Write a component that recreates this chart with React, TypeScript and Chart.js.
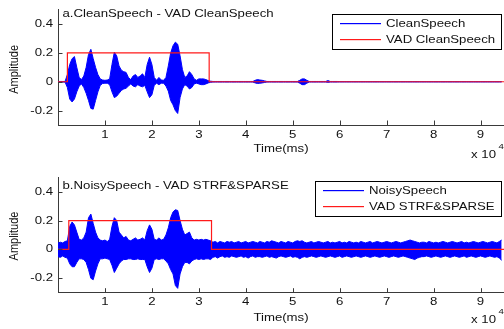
import { useEffect, useRef } from "react";
import { Chart, registerables } from "chart.js";

Chart.register(...registerables);

// time bin width, in units of 10^4 ms
const STEP = 0.05;

const xTicks = [1, 2, 3, 4, 5, 6, 7, 8, 9];
const yTicks = [-0.2, 0, 0.2, 0.4];

// envelope (max / min per bin) of the clean speech waveform
const cleanHi = [
  0.002, 0.002, 0.002, 0.002, 0.05, 0.12, 0.16, 0.175, 0.1, 0.03,
  0.015, 0.04, 0.1, 0.19, 0.225, 0.16, 0.1, 0.05, 0.02, 0.012,
  0.01, 0.012, 0.02, 0.12, 0.205, 0.18, 0.11, 0.08, 0.07, 0.065,
  0.03, 0.015, 0.04, 0.05, 0.03, 0.04, 0.055, 0.03, 0.12, 0.17,
  0.12, 0.03, 0.01, 0.03, 0.012, 0.01, 0.03, 0.11, 0.2, 0.25,
  0.275, 0.26, 0.18, 0.085, 0.03, 0.04, 0.07, 0.05, 0.02, 0.01,
  0.02, 0.02, 0.02, 0.015, 0.008, 0.004, 0.002, 0.002, 0.002, 0.002,
  0.002, 0.002, 0.002, 0.002, 0.002, 0.002, 0.002, 0.002, 0.002, 0.002,
  0.002, 0.002, 0.002, 0.002, 0.01, 0.015, 0.012, 0.01, 0.006, 0.002,
  0.002, 0.002, 0.002, 0.002, 0.002, 0.002, 0.002, 0.002, 0.002, 0.002,
  0.002, 0.002, 0.002, 0.01, 0.02, 0.02, 0.01, 0.002, 0.002, 0.002,
  0.002, 0.002, 0.002, 0.002, 0.002, 0.008, 0.002, 0.002, 0.002, 0.002,
  0.001, 0.001, 0.001, 0.001, 0.001, 0.001, 0.001, 0.001, 0.001, 0.001,
  0.001, 0.001, 0.001, 0.001, 0.001, 0.001, 0.001, 0.001, 0.001, 0.001,
  0.001, 0.001, 0.001, 0.001, 0.001, 0.001, 0.001, 0.001, 0.001, 0.001,
  0.001, 0.001, 0.001, 0.001, 0.001, 0.001, 0.001, 0.001, 0.001, 0.001,
  0.001, 0.001, 0.001, 0.001, 0.001, 0.001, 0.001, 0.001, 0.001, 0.001,
  0.001, 0.001, 0.001, 0.001, 0.001, 0.001, 0.001, 0.001, 0.001, 0.001,
  0.001, 0.001, 0.001, 0.001, 0.001, 0.001, 0.001, 0.001, 0.001, 0.001,
];
const cleanLo = [
  -0.002, -0.002, -0.002, -0.002, -0.04, -0.12, -0.14, -0.12, -0.07, -0.03,
  -0.015, -0.04, -0.08, -0.13, -0.185, -0.19, -0.13, -0.07, -0.025, -0.012,
  -0.01, -0.01, -0.02, -0.07, -0.11, -0.1, -0.08, -0.06, -0.05, -0.045,
  -0.03, -0.015, -0.03, -0.035, -0.02, -0.03, -0.035, -0.025, -0.07, -0.11,
  -0.09, -0.025, -0.01, -0.02, -0.01, -0.01, -0.03, -0.065, -0.13, -0.16,
  -0.2, -0.22, -0.11, -0.05, -0.02, -0.03, -0.05, -0.04, -0.015, -0.01,
  -0.015, -0.02, -0.02, -0.015, -0.008, -0.004, -0.002, -0.002, -0.002, -0.002,
  -0.002, -0.002, -0.002, -0.002, -0.002, -0.002, -0.002, -0.002, -0.002, -0.002,
  -0.002, -0.002, -0.002, -0.002, -0.008, -0.012, -0.01, -0.008, -0.005, -0.002,
  -0.002, -0.002, -0.002, -0.002, -0.002, -0.002, -0.002, -0.002, -0.002, -0.002,
  -0.002, -0.002, -0.002, -0.01, -0.02, -0.02, -0.01, -0.002, -0.002, -0.002,
  -0.002, -0.002, -0.002, -0.002, -0.002, -0.004, -0.002, -0.002, -0.002, -0.002,
  -0.001, -0.001, -0.001, -0.001, -0.001, -0.001, -0.001, -0.001, -0.001, -0.001,
  -0.001, -0.001, -0.001, -0.001, -0.001, -0.001, -0.001, -0.001, -0.001, -0.001,
  -0.001, -0.001, -0.001, -0.001, -0.001, -0.001, -0.001, -0.001, -0.001, -0.001,
  -0.001, -0.001, -0.001, -0.001, -0.001, -0.001, -0.001, -0.001, -0.001, -0.001,
  -0.001, -0.001, -0.001, -0.001, -0.001, -0.001, -0.001, -0.001, -0.001, -0.001,
  -0.001, -0.001, -0.001, -0.001, -0.001, -0.001, -0.001, -0.001, -0.001, -0.001,
  -0.001, -0.001, -0.001, -0.001, -0.001, -0.001, -0.001, -0.001, -0.001, -0.001,
];

// envelope (max / min per bin) of the noisy speech waveform
const noisyHi = [
  0.045, 0.05, 0.045, 0.055, 0.06, 0.16, 0.19, 0.17, 0.12, 0.07,
  0.065, 0.08, 0.12, 0.22, 0.245, 0.18, 0.12, 0.08, 0.065, 0.06,
  0.065, 0.055, 0.07, 0.16, 0.22, 0.2, 0.12, 0.1, 0.08, 0.09,
  0.065, 0.06, 0.07, 0.08, 0.065, 0.07, 0.08, 0.065, 0.13, 0.17,
  0.14, 0.07, 0.065, 0.08, 0.065, 0.07, 0.1, 0.15, 0.22, 0.26,
  0.275, 0.27, 0.2, 0.14, 0.1, 0.11, 0.12, 0.08, 0.065, 0.07,
  0.065, 0.07, 0.065, 0.07, 0.065, 0.06, 0.05, 0.055, 0.045, 0.055,
  0.05, 0.045, 0.055, 0.05, 0.055, 0.045, 0.05, 0.055, 0.045, 0.05,
  0.055, 0.045, 0.05, 0.055, 0.05, 0.045, 0.055, 0.05, 0.045, 0.055,
  0.05, 0.06, 0.055, 0.05, 0.045, 0.055, 0.05, 0.045, 0.055, 0.05,
  0.045, 0.055, 0.06, 0.055, 0.06, 0.05, 0.045, 0.05, 0.055, 0.045,
  0.05, 0.055, 0.05, 0.045, 0.05, 0.055, 0.045, 0.05, 0.045, 0.05,
  0.055, 0.045, 0.05, 0.045, 0.055, 0.05, 0.045, 0.05, 0.045, 0.055,
  0.05, 0.045, 0.05, 0.055, 0.045, 0.05, 0.055, 0.05, 0.045, 0.05,
  0.055, 0.05, 0.045, 0.05, 0.055, 0.05, 0.045, 0.05, 0.055, 0.06,
  0.065, 0.06, 0.055, 0.05, 0.045, 0.05, 0.05, 0.045, 0.055, 0.05,
  0.045, 0.05, 0.045, 0.05, 0.055, 0.05, 0.045, 0.05, 0.055, 0.05,
  0.045, 0.05, 0.055, 0.045, 0.05, 0.045, 0.05, 0.055, 0.05, 0.045,
  0.05, 0.055, 0.05, 0.045, 0.05, 0.055, 0.05, 0.045, 0.055, 0.065,
];
const noisyLo = [
  -0.05, -0.055, -0.045, -0.055, -0.06, -0.1, -0.12, -0.12, -0.09, -0.065,
  -0.065, -0.07, -0.09, -0.14, -0.2, -0.21, -0.15, -0.1, -0.065, -0.065,
  -0.06, -0.065, -0.07, -0.11, -0.16, -0.13, -0.1, -0.08, -0.07, -0.07,
  -0.065, -0.065, -0.07, -0.07, -0.065, -0.07, -0.07, -0.07, -0.12, -0.16,
  -0.13, -0.07, -0.065, -0.07, -0.065, -0.065, -0.08, -0.1, -0.14, -0.17,
  -0.25, -0.27, -0.17, -0.12, -0.09, -0.09, -0.1, -0.08, -0.07, -0.065,
  -0.07, -0.065, -0.07, -0.065, -0.065, -0.07, -0.055, -0.05, -0.06, -0.05,
  -0.045, -0.055, -0.05, -0.055, -0.045, -0.05, -0.055, -0.05, -0.045, -0.055,
  -0.05, -0.06, -0.05, -0.045, -0.055, -0.05, -0.05, -0.055, -0.05, -0.045,
  -0.055, -0.05, -0.055, -0.06, -0.05, -0.045, -0.05, -0.055, -0.05, -0.045,
  -0.055, -0.05, -0.055, -0.065, -0.055, -0.05, -0.055, -0.05, -0.045, -0.05,
  -0.055, -0.05, -0.045, -0.05, -0.055, -0.05, -0.045, -0.05, -0.055, -0.05,
  -0.045, -0.055, -0.05, -0.045, -0.05, -0.055, -0.05, -0.045, -0.05, -0.055,
  -0.05, -0.045, -0.05, -0.055, -0.05, -0.045, -0.05, -0.055, -0.05, -0.045,
  -0.05, -0.055, -0.05, -0.045, -0.05, -0.055, -0.05, -0.045, -0.05, -0.055,
  -0.06, -0.065, -0.07, -0.06, -0.055, -0.05, -0.05, -0.045, -0.05, -0.055,
  -0.05, -0.045, -0.05, -0.055, -0.05, -0.045, -0.05, -0.055, -0.05, -0.045,
  -0.05, -0.055, -0.05, -0.045, -0.055, -0.05, -0.045, -0.05, -0.055, -0.05,
  -0.045, -0.05, -0.055, -0.05, -0.045, -0.05, -0.055, -0.05, -0.06, -0.075,
];

// VAD decisions: step points (time, value)
const vadCleanX = [0, 0.2, 3.22, 9.5];
const vadCleanY = [0, 0.2, 0, 0];
const vadNoisyX = [0, 0.23, 3.27, 9.5];
const vadNoisyY = [0, 0.2, 0, 0];

const BLUE = "#0000ff";
const RED = "#ff1a1a";
const AXIS = "#3a3a3a";
const TEXT = "#111111";
const FONT = "Liberation Sans";
const SX = 1.2; // horizontal stretch of the original figure's text

function buildEnvelope(vals: number[]) {
  return vals.map((y, i) => ({ x: i * STEP, y }));
}

function drawText(
  ctx: CanvasRenderingContext2D,
  text: string,
  x: number,
  y: number,
  size: number,
  align: CanvasTextAlign
) {
  ctx.save();
  ctx.translate(x, y);
  ctx.scale(SX, 1);
  ctx.font = `${size}px "${FONT}"`;
  ctx.textAlign = align;
  ctx.textBaseline = "middle";
  ctx.fillStyle = TEXT;
  ctx.fillText(text, 0, 0);
  ctx.restore();
}

type PanelCfg = {
  title: string;
  waveLabel: string;
  vadLabel: string;
  hi: number[];
  lo: number[];
  vadX: number[];
  vadY: number[];
  top: number;
  height: number;
  padTop: number;
  xAxisH: number;
  tickDy: number;
  xTitleDy: number;
  yTitleDy: number;
  titleDy: number;
  legendDy: number;
  expDy: number;
};

function makeDecor(cfg: PanelCfg) {
  return {
    id: "decor",
    afterDraw(chart: any) {
      const { ctx, chartArea, scales } = chart;
      const { left, right, top, bottom } = chartArea;
      ctx.save();
      // inward tick marks
      ctx.strokeStyle = AXIS;
      ctx.lineWidth = 1;
      ctx.beginPath();
      for (const v of xTicks) {
        const px = Math.round(scales.x.getPixelForValue(v)) + 0.5;
        ctx.moveTo(px, bottom);
        ctx.lineTo(px, bottom - 4.5);
      }
      for (const v of yTicks) {
        const py = Math.round(scales.y.getPixelForValue(v)) + 0.5;
        ctx.moveTo(left, py);
        ctx.lineTo(left + 4.5, py);
      }
      ctx.stroke();

      // tick labels
      for (const v of xTicks) {
        drawText(ctx, String(v), scales.x.getPixelForValue(v), bottom + cfg.tickDy, 11, "center");
      }
      for (const v of yTicks) {
        drawText(ctx, String(v), left - 5, scales.y.getPixelForValue(v), 11, "right");
      }

      // axis titles
      drawText(ctx, "Time(ms)", (left + right) / 2, bottom + cfg.xTitleDy, 11, "center");
      ctx.save();
      ctx.translate(14, (top + bottom) / 2 + cfg.yTitleDy);
      ctx.rotate(-Math.PI / 2);
      ctx.scale(1, SX);
      ctx.font = `11px "${FONT}"`;
      ctx.textAlign = "center";
      ctx.textBaseline = "middle";
      ctx.fillStyle = TEXT;
      ctx.fillText("Amplitude", 0, 0);
      ctx.restore();

      // panel title inside axes
      drawText(ctx, cfg.title, left + 4.5, top + cfg.titleDy, 11, "left");

      // legend box
      ctx.font = `11px "${FONT}"`;
      const labels = [cfg.waveLabel, cfg.vadLabel];
      const colors = [BLUE, RED];
      const maxW = Math.max(...labels.map((l) => ctx.measureText(l).width)) * SX;
      const boxW = Math.round(54 + maxW + 6);
      const boxH = 35;
      const bx = Math.round(right - 3 - boxW);
      const by = Math.round(top + cfg.legendDy);
      ctx.fillStyle = "#ffffff";
      ctx.fillRect(bx, by, boxW, boxH);
      ctx.fillStyle = "#000000";
      ctx.fillRect(bx, by, boxW + 1, 1);
      ctx.fillRect(bx, by + boxH, boxW + 1, 1);
      ctx.fillRect(bx, by, 1, boxH + 1);
      ctx.fillRect(bx + boxW, by, 1, boxH + 1);
      for (let i = 0; i < labels.length; i++) {
        const ry = by + 9 + i * 16;
        ctx.fillStyle = colors[i];
        ctx.fillRect(bx + 8, ry, 41, 1.2);
        drawText(ctx, labels[i], bx + 54, ry + 1, 11, "left");
      }

      // x 10^4 multiplier
      drawText(ctx, "x 10", right - 8, bottom + cfg.expDy, 11, "right");
      drawText(ctx, "4", right - 5.5, bottom + cfg.expDy - 8, 8, "left");
      ctx.restore();
    },
  };
}

function Panel({ cfg }: { cfg: PanelCfg }) {
  const ref = useRef<HTMLCanvasElement>(null);
  useEffect(() => {
    const chart = new Chart(ref.current as HTMLCanvasElement, {
      type: "line",
      data: {
        datasets: [
          {
            label: cfg.waveLabel,
            data: buildEnvelope(cfg.hi),
            borderColor: BLUE,
            backgroundColor: BLUE,
            borderWidth: 1,
            pointRadius: 0,
            tension: 0,
            fill: "+1",
            order: 1,
          },
          {
            label: cfg.waveLabel + " (min)",
            data: buildEnvelope(cfg.lo),
            borderColor: BLUE,
            backgroundColor: BLUE,
            borderWidth: 1,
            pointRadius: 0,
            tension: 0,
            fill: false,
            order: 1,
          },
          {
            label: cfg.vadLabel,
            data: cfg.vadX.map((x, i) => ({ x, y: cfg.vadY[i] })),
            borderColor: RED,
            backgroundColor: RED,
            borderWidth: 1.2,
            pointRadius: 0,
            stepped: true,
            fill: false,
            order: 0,
          },
        ],
      } as any,
      options: {
        animation: false,
        responsive: false,
        events: [],
        layout: { padding: { top: cfg.padTop, left: 0, right: 0, bottom: 0 } },
        plugins: {
          legend: { display: false },
          tooltip: { enabled: false },
        },
        scales: {
          x: {
            type: "linear",
            min: 0,
            max: 9.5,
            afterBuildTicks: (s: any) => {
              s.ticks = xTicks.map((v) => ({ value: v }));
            },
            afterFit: (s: any) => {
              s.height = cfg.xAxisH;
            },
            grid: { display: false, drawTicks: false },
            border: { display: true, color: AXIS, width: 1 },
            ticks: { display: false },
          },
          y: {
            type: "linear",
            min: -0.3,
            max: 0.5,
            afterBuildTicks: (s: any) => {
              s.ticks = yTicks.map((v) => ({ value: v }));
            },
            afterFit: (s: any) => {
              s.width = 58;
            },
            grid: { display: false, drawTicks: false },
            border: { display: true, color: AXIS, width: 1 },
            ticks: { display: false },
          },
        },
      } as any,
      plugins: [makeDecor(cfg)],
    });
    return () => chart.destroy();
  }, [cfg]);
  return (
    <canvas
      ref={ref}
      width={504}
      height={cfg.height}
      style={{ position: "absolute", left: 0, top: cfg.top, width: 504, height: cfg.height }}
    />
  );
}

const topCfg: PanelCfg = {
  title: "a.CleanSpeech - VAD CleanSpeech",
  waveLabel: "CleanSpeech",
  vadLabel: "VAD CleanSpeech",
  hi: cleanHi,
  lo: cleanLo,
  vadX: vadCleanX,
  vadY: vadCleanY,
  top: 0,
  height: 165,
  padTop: 9.7,
  xAxisH: 40,
  tickDy: 10,
  xTitleDy: 24.3,
  yTitleDy: 2,
  titleDy: 4.3,
  legendDy: 4.3,
  expDy: 30,
};

const bottomCfg: PanelCfg = {
  title: "b.NoisySpeech - VAD STRF&SPARSE",
  waveLabel: "NoisySpeech",
  vadLabel: "VAD STRF&SPARSE",
  hi: noisyHi,
  lo: noisyLo,
  vadX: vadNoisyX,
  vadY: vadNoisyY,
  top: 164,
  height: 165,
  padTop: 13.3,
  xAxisH: 36.3,
  tickDy: 9,
  xTitleDy: 25.3,
  yTitleDy: 1,
  titleDy: 8.4,
  legendDy: 3.7,
  expDy: 27.3,
};

export default function App() {
  return (
    <div style={{ position: "fixed", left: 0, top: 0, width: 504, height: 329, background: "#fff", overflow: "hidden" }}>
      <Panel cfg={topCfg} />
      <Panel cfg={bottomCfg} />
    </div>
  );
}
